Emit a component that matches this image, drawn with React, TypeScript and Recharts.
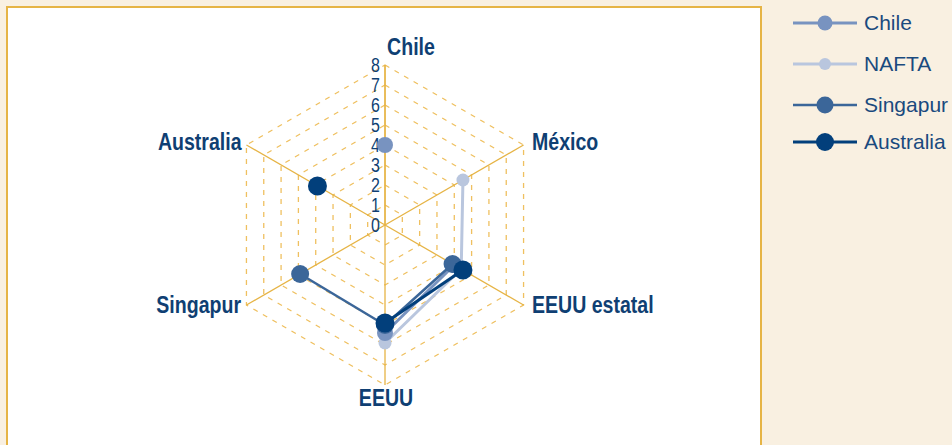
import React from 'react';
import { RadarChart, Radar, PolarGrid, PolarAngleAxis, PolarRadiusAxis, Legend } from 'recharts';

// ejes del radar (sentido horario desde arriba)
const axes = ['Chile', 'México', 'EEUU estatal', 'EEUU', 'Singapur', 'Australia'];
const radiusTicks = [0, 1, 2, 3, 4, 5, 6, 7, 8];

// valores por serie (null = sin dato)
const chile = [4, null, 4, 5.4, null, null];
const nafta = [null, 4.5, 4.4, 5.9, null, null];
const singapur = [null, null, 3.9, 5, 4.9, null];
const australia = [null, null, 4.5, 4.9, null, 3.9];

const seriesNames = ['Chile', 'NAFTA', 'Singapur', 'Australia'];

const data = axes.map((axis, i) => ({
    axis,
    Chile: chile[i],
    NAFTA: nafta[i],
    Singapur: singapur[i],
    Australia: australia[i],
}));

const styles: Record<string, { color: string; r: number; w: number }> = {
    Chile: { color: '#7893c0', r: 8, w: 3 },
    NAFTA: { color: '#b9c6de', r: 6.5, w: 3 },
    Singapur: { color: '#3b6699', r: 9, w: 2.5 },
    Australia: { color: '#023f7b', r: 9.5, w: 3 },
};

const GOLD = '#e6b445';
const TEXT = '#0f3f73';
const SANS = '"Liberation Sans", Arial, sans-serif';
const NARROW = 0.85; // imitación de Arial Narrow

// valor original de un punto del radar (null si no hay dato)
const rawValue = (p: any, dataKey: string) => {
    const entry = p?.payload?.payload ?? p?.payload;
    return entry ? entry[dataKey] : null;
};

// solo une puntos consecutivos con dato, sin cerrar el polígono
const SegmentShape = (props: any) => {
    const pts = props.points || [];
    const ok = (p: any) => p && Number.isFinite(p.x) && Number.isFinite(p.y) && p.payload?.[props.dataKey] != null;
    let d = '';
    let last = -1;
    for (let i = 0; i < pts.length; i++) {
        const j = (i + 1) % pts.length;
        const a = pts[i];
        const b = pts[j];
        if (ok(a) && ok(b)) {
            d += last === i ? `L${b.x},${b.y}` : `M${a.x},${a.y}L${b.x},${b.y}`;
            last = j;
        }
    }
    return <path d={d} fill="none" stroke={props.stroke} strokeWidth={props.strokeWidth} strokeLinejoin="round" />;
};

const makeDot = (name: string) => (props: any) => {
    const v = rawValue(props, name);
    if (v == null || !Number.isFinite(props.cx)) return <g key={props.key ?? `d-${props.index}`} />;
    return <circle key={props.key ?? `d-${props.index}`} cx={props.cx} cy={props.cy} r={styles[name].r} fill={styles[name].color} />;
};

const labelOffsets = [
    { dx: 26, dy: -10 },
    { dx: 1.5, dy: 1 },
    { dx: 1.5, dy: -4 },
    { dx: 1, dy: 5 },
    { dx: 1.5, dy: -4 },
    { dx: 2, dy: 1 },
];

const AngleTick = (props: any) => {
    const { x, y, textAnchor, payload } = props;
    const idx = axes.indexOf(payload.value);
    const off = labelOffsets[idx] || { dx: 0, dy: 0 };
    return (
        <g transform={`translate(${x + off.dx},${y + off.dy}) scale(${NARROW},1)`}>
            <text x={0} y={0} textAnchor={textAnchor} dominantBaseline="central" fill={TEXT} fontFamily={SANS} fontWeight="bold" fontSize={23}>
                {payload.value}
            </text>
        </g>
    );
};

const RadiusTick = (props: any) => {
    const { x, y, payload } = props;
    return (
        <g transform={`translate(${x - 5},${y}) scale(0.82,1)`}>
            <text x={0} y={0} textAnchor="end" dominantBaseline="central" fill={TEXT} fontFamily={SANS} fontSize={19.5}>
                {payload.value}
            </text>
        </g>
    );
};

const legendRowTops = [3, 44, 85, 122];

const LegendContent = () => (
    <div style={{ position: 'relative', width: 160 }}>
        {seriesNames.map((name, i) => {
            const s = styles[name];
            return (
                <div key={name} style={{ position: 'absolute', left: 0, top: legendRowTops[i] - 3, height: 40, display: 'flex', alignItems: 'center' }}>
                    <svg width={66} height={20} style={{ display: 'block' }}>
                        <line x1={1} y1={10} x2={65} y2={10} stroke={s.color} strokeWidth={s.w} />
                        <circle cx={33} cy={10} r={s.r - 0.5} fill={s.color} />
                    </svg>
                    <span style={{ marginLeft: 6, fontFamily: SANS, fontSize: 21, color: '#1a4a7e', whiteSpace: 'nowrap' }}>
                        {name}
                    </span>
                </div>
            );
        })}
    </div>
);

const drawOrder = ['NAFTA', 'Chile', 'Singapur', 'Australia'];

export default function App() {
    return (
        <div style={{ position: 'absolute', left: 0, top: 0, width: 952, height: 445, background: '#f9f0e1', overflow: 'hidden' }}>
            <div style={{ position: 'absolute', left: 6, top: 6, width: 752, height: 470, background: '#fff', border: `2px solid ${GOLD}` }} />
            <div style={{ position: 'absolute', left: 0, top: 0 }}>
                <RadarChart width={952} height={445} data={data} cx={385} cy={225} outerRadius={160} margin={{ top: 0, right: 0, bottom: 0, left: 0 }}>
                    <PolarGrid gridType="polygon" radialLines={false} stroke="#efc060" strokeDasharray="5 6" strokeWidth={1.3} />
                    <PolarGrid gridType="polygon" polarRadius={[]} stroke={GOLD} strokeWidth={1.3} />
                    <PolarAngleAxis dataKey="axis" tick={<AngleTick />} tickLine={false} axisLine={false} />
                    <PolarRadiusAxis
                        angle={90}
                        type="number"
                        domain={[radiusTicks[0], radiusTicks[radiusTicks.length - 1]]}
                        tickCount={radiusTicks.length}
                        tick={<RadiusTick />}
                        axisLine={{ stroke: GOLD, strokeWidth: 1.3 }}
                        tickLine={false}
                    />
                    {drawOrder.map((name) => (
                        <Radar
                            key={name}
                            name={name}
                            dataKey={name}
                            stroke={styles[name].color}
                            strokeWidth={styles[name].w}
                            fill="none"
                            shape={SegmentShape}
                            dot={makeDot(name)}
                            isAnimationActive={false}
                        />
                    ))}
                    <Legend
                        content={<LegendContent />}
                        layout="vertical"
                        verticalAlign="top"
                        align="right"
                        wrapperStyle={{ position: 'absolute', left: 792, top: 3, width: 160, height: 170 }}
                    />
                </RadarChart>
            </div>
        </div>
    );
}
